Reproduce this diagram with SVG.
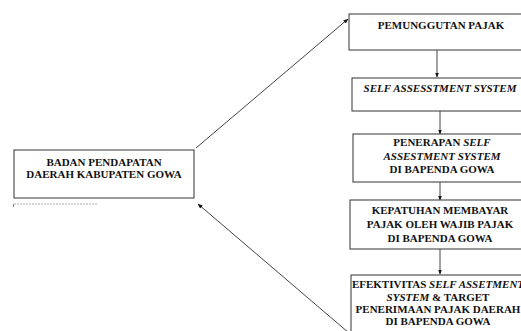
<svg xmlns="http://www.w3.org/2000/svg" width="521" height="331" viewBox="0 0 521 331">
<style>
.box{fill:#fff;stroke:#333;stroke-width:1}
text{font-family:"Liberation Serif","DejaVu Serif","Times New Roman",serif;font-weight:bold;font-size:11px;fill:#111;text-anchor:middle}
.i{font-style:italic}
.c{stroke:#444;stroke-width:1;fill:none}
</style>
<defs>
<marker id="ah" viewBox="0 0 10 10" refX="9" refY="5" markerWidth="5" markerHeight="5" orient="auto">
<path d="M0,1 L10,5 L0,9 z" fill="#111"/>
</marker>
</defs>
<rect width="521" height="331" fill="#fff"/>
<g id="connectors">
<line class="c" x1="196" y1="148" x2="348" y2="19" marker-end="url(#ah)"/>
<line class="c" x1="349" y1="333" x2="198" y2="204" marker-end="url(#ah)"/>
<line class="c" x1="437" y1="50" x2="437" y2="77" marker-end="url(#ah)"/>
<line class="c" x1="440" y1="111" x2="440" y2="134" marker-end="url(#ah)"/>
<line class="c" x1="440" y1="182" x2="440" y2="200" marker-end="url(#ah)"/>
<line class="c" x1="440" y1="249" x2="440" y2="274" marker-end="url(#ah)"/>
</g>
<g id="badan">
<rect class="box" x="14" y="150" width="180" height="48"/>
<text x="104" y="166">BADAN PENDAPATAN</text>
<text x="104" y="178">DAERAH KABUPATEN GOWA</text>
<line x1="14" y1="204" x2="97" y2="204" stroke="#aaa" stroke-width="1" stroke-dasharray="2,1"/>
<line x1="13.5" y1="204" x2="13.5" y2="207" stroke="#888" stroke-width="1"/>
</g>
<g id="pemungutan">
<rect class="box" x="349" y="14" width="180" height="36"/>
<text x="441" y="29">PEMUNGGUTAN PAJAK</text>
</g>
<g id="self">
<rect class="box" x="352" y="78" width="180" height="33"/>
<text class="i" x="440" y="92">SELF ASSESSTMENT SYSTEM</text>
</g>
<g id="penerapan">
<rect class="box" x="353" y="134" width="180" height="48"/>
<text x="442" y="146">PENERAPAN <tspan class="i">SELF</tspan></text>
<text class="i" x="442" y="160">ASSESTMENT SYSTEM</text>
<text x="442" y="173">DI BAPENDA GOWA</text>
</g>
<g id="kepatuhan">
<rect class="box" x="350" y="200" width="180" height="49"/>
<text x="440" y="214">KEPATUHAN MEMBAYAR</text>
<text x="440" y="228">PAJAK OLEH WAJIB PAJAK</text>
<text x="440" y="242">DI BAPENDA GOWA</text>
</g>
<g id="efektivitas">
<rect class="box" x="351" y="275" width="180" height="70"/>
<text x="438" y="288">EFEKTIVITAS <tspan class="i">SELF ASSETMENT</tspan></text>
<text x="438" y="301"><tspan class="i">SYSTEM</tspan> &amp; TARGET</text>
<text x="438" y="313">PENERIMAAN PAJAK DAERAH</text>
<text x="438" y="325">DI BAPENDA GOWA</text>
</g>
</svg>
